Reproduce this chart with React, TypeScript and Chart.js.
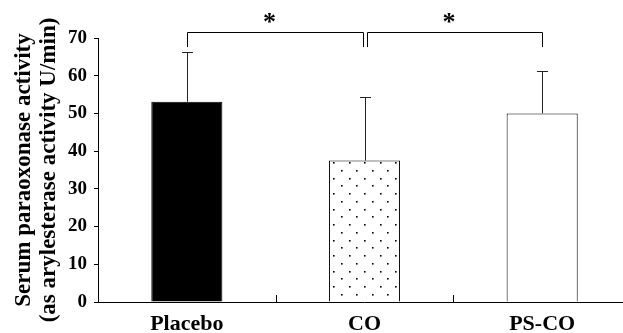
import React, { useEffect, useRef } from "react";
import { Chart, registerables } from "chart.js";

Chart.register(...registerables);

const categories = ["Placebo", "CO", "PS-CO"];
const means = [53.1, 37.5, 50.0];
const sds = [13.1, 16.9, 11.3];
const yMin = 0;
const yMax = 70;
const yStep = 10;
const yTitleLines = ["Serum paraoxonase activity", "(as arylesterase activity U/min)"];
const comparisons: [number, number][] = [
  [0, 1],
  [1, 2],
];
const sigLabels = ["*", "*"];

const FONT = "'Liberation Serif', 'Times New Roman', serif";

function makeDotPattern(ctx: CanvasRenderingContext2D) {
  const tile = document.createElement("canvas");
  tile.width = 31;
  tile.height = 31;
  const t = tile.getContext("2d")!;
  t.fillStyle = "#ffffff";
  t.fillRect(0, 0, 31, 31);
  t.fillStyle = "#000000";
  const rowsY = [0, 7.75, 15.5, 23.25];
  rowsY.forEach((y, r) => {
    const xs = r % 2 === 0 ? [0, 15.5] : [7.75, 23.25];
    xs.forEach((x) => {
      t.fillRect(Math.round(x), Math.round(y), 1.6, 1.6);
    });
  });
  const p = ctx.createPattern(tile, "repeat")!;
  try {
    p.setTransform(new DOMMatrix().translate(23, 7));
  } catch (e) {}
  return p;
}

const overlayPlugin = {
  id: "overlay",
  afterDraw(chart: any) {
    const { ctx, chartArea, scales } = chart;
    const xs = scales.x;
    const ys = scales.y;
    const y0 = ys.getPixelForValue(0);
    ctx.save();
    ctx.strokeStyle = "#000";
    ctx.lineWidth = 1;

    // x axis line across full width
    ctx.beginPath();
    ctx.moveTo(chartArea.left, Math.round(y0) + 0.5);
    ctx.lineTo(chart.width, Math.round(y0) + 0.5);
    ctx.stroke();

    // inward ticks between categories
    const step = xs.getPixelForValue(1) - xs.getPixelForValue(0);
    for (let i = 0; i < categories.length; i++) {
      const xb = Math.round(xs.getPixelForValue(i) + step / 2) + 0.5;
      ctx.beginPath();
      ctx.moveTo(xb, y0);
      ctx.lineTo(xb, y0 - 7);
      ctx.stroke();
    }

    // error bars (upper only)
    ctx.strokeStyle = "#222";
    for (let i = 0; i < means.length; i++) {
      const x = Math.round(xs.getPixelForValue(i)) + 0.5;
      const yb = ys.getPixelForValue(means[i]);
      const yt = Math.round(ys.getPixelForValue(means[i] + sds[i])) + 0.5;
      ctx.beginPath();
      ctx.moveTo(x, yb);
      ctx.lineTo(x, yt);
      ctx.moveTo(x - 5.5, yt);
      ctx.lineTo(x + 5.5, yt);
      ctx.stroke();
    }

    // significance brackets
    ctx.strokeStyle = "#000";
    const yB = Math.round(ys.getPixelForValue(71.6)) + 0.5;
    const yD = ys.getPixelForValue(67.6);
    const counts: Record<number, number> = {};
    comparisons.forEach(([a, b]) => {
      counts[a] = (counts[a] || 0) + 1;
      counts[b] = (counts[b] || 0) + 1;
    });
    comparisons.forEach(([a, b], k) => {
      const xa = Math.round(xs.getPixelForValue(a) + (counts[a] > 1 ? 2 : 0)) + 0.5;
      const xb = Math.round(xs.getPixelForValue(b) - (counts[b] > 1 ? 2 : 0)) + 0.5;
      ctx.beginPath();
      ctx.moveTo(xa, yD);
      ctx.lineTo(xa, yB);
      ctx.lineTo(xb, yB);
      ctx.lineTo(xb, yD);
      ctx.stroke();
      ctx.fillStyle = "#000";
      ctx.font = `bold 26px ${FONT}`;
      ctx.textAlign = "center";
      ctx.textBaseline = "middle";
      ctx.fillText(sigLabels[k], (xa + xb) / 2 - 6, yB - 9);
    });

    // y title
    ctx.fillStyle = "#000";
    ctx.font = `bold 23px ${FONT}`;
    ctx.textAlign = "center";
    ctx.textBaseline = "middle";
    const titleX = [24, 49];
    const midY = (chartArea.top + chartArea.bottom) / 2;
    yTitleLines.forEach((line, i) => {
      ctx.save();
      ctx.translate(titleX[i], midY);
      ctx.rotate(-Math.PI / 2);
      ctx.fillText(line, 0, 0);
      ctx.restore();
    });
    ctx.restore();
  },
};

export default function App() {
  const ref = useRef<HTMLCanvasElement>(null);
  useEffect(() => {
    document.body.style.margin = "0";
    const canvas = ref.current!;
    const ctx = canvas.getContext("2d")!;
    const pattern = makeDotPattern(ctx);
    const chart = new Chart(ctx, {
      type: "bar",
      data: {
        labels: categories,
        datasets: [
          {
            data: means,
            backgroundColor: ["#000000", pattern as any, "#ffffff"],
            borderColor: "#000000",
            borderWidth: 1,
            barPercentage: 0.4,
            categoryPercentage: 1,
          },
        ],
      },
      options: {
        responsive: false,
        animation: false,
        layout: { padding: { top: 38, right: 0, left: 0, bottom: 0 } },
        plugins: {
          legend: { display: false },
          tooltip: { enabled: false },
        },
        scales: {
          x: {
            grid: { display: false },
            border: { display: false },
            ticks: {
              color: "#000",
              font: { family: FONT, size: 22, weight: "bold" },
              padding: 1,
              maxRotation: 0,
            },
            afterFit: (s: any) => {
              s.height = 31;
            },
          },
          y: {
            min: yMin,
            max: yMax,
            ticks: {
              stepSize: yStep,
              color: "#000",
              font: { family: FONT, size: 19, weight: "bold" },
              padding: 7,
            },
            grid: {
              drawOnChartArea: false,
              drawTicks: true,
              tickLength: 4,
              color: "#000",
            },
            border: { display: true, color: "#000", width: 1 },
            afterFit: (s: any) => {
              s.width = 98;
            },
          },
        },
      },
      plugins: [overlayPlugin],
    });
    return () => chart.destroy();
  }, []);
  return (
    <div style={{ width: 623, height: 333, overflow: "hidden" }}>
      <canvas ref={ref} width={631} height={333} style={{ display: "block" }} />
    </div>
  );
}
